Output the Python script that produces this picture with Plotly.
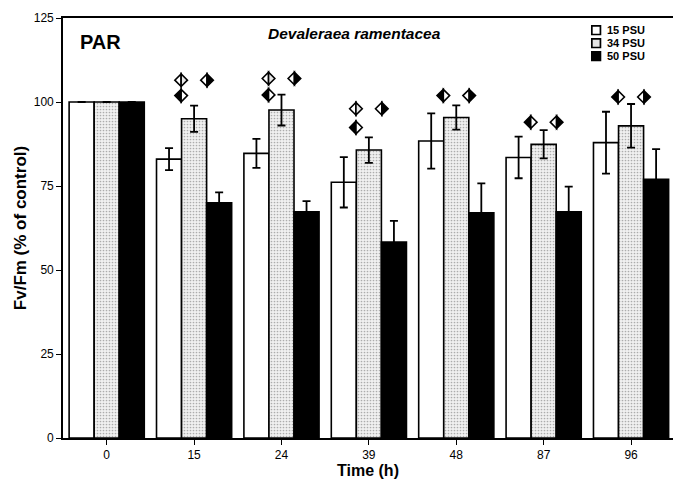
import plotly.graph_objects as go

# ---- data ----
time_labels = ["0", "15", "24", "39", "48", "87", "96"]
series_names = ["15 PSU", "34 PSU", "50 PSU"]
psu15 = [100, 83.0, 84.7, 76.1, 88.4, 83.5, 87.9]
psu15_err = [0, 3.3, 4.3, 7.5, 8.2, 6.2, 9.2]
psu34 = [100, 95.0, 97.6, 85.7, 95.4, 87.4, 92.9]
psu34_err = [0, 3.9, 4.6, 3.8, 3.6, 4.2, 6.5]
psu50 = [100, 70.0, 67.3, 58.3, 67.0, 67.3, 77.0]
psu50_err = [0, 3.1, 3.2, 6.3, 8.8, 7.5, 9.0]

# significance markers: group index, side (-1 left / +1 right), y value, kind
sig_group = [1, 1, 1, 2, 2, 2, 3, 3, 3, 4, 4, 5, 5, 6, 6]
sig_side = [-1, 1, -1, -1, 1, -1, -1, 1, -1, -1, 1, -1, 1, -1, 1]
sig_y = [106.5, 106.5, 101.9, 107.0, 107.0, 102.1, 98.0, 98.0, 92.4,
         101.9, 101.9, 94.0, 94.0, 101.5, 101.5]
sig_kind = ["A", "B", "C", "A", "B", "C", "A", "B", "C", "C", "B", "C", "B", "C", "B"]

x_idx = list(range(len(time_labels)))
FONT = "Arial, Liberation Sans, Helvetica, sans-serif"

fig = go.Figure()

err_style = dict(type="data", visible=True, color="black", thickness=1.8, width=4)
stipple = dict(shape=".", fgcolor="#686868", bgcolor="#f0f0f0", size=3, solidity=0.25)

fig.add_trace(go.Bar(
    x=x_idx, y=psu15, name=series_names[0],
    error_y=dict(array=psu15_err, **err_style),
    marker=dict(color="white", line=dict(color="black", width=1.6)),
))
fig.add_trace(go.Bar(
    x=x_idx, y=psu34, name=series_names[1],
    error_y=dict(array=psu34_err, **err_style),
    marker=dict(color="white", line=dict(color="black", width=1.6), pattern=stipple),
))
fig.add_trace(go.Bar(
    x=x_idx, y=psu50, name=series_names[2],
    error_y=dict(array=psu50_err, **err_style),
    marker=dict(color="black", line=dict(color="black", width=1.6)),
))

# half-filled diamond markers (pixel-sized shapes anchored at data coordinates)
half = 6.3
fills = {"A": ("white", "#e6e6e6"), "B": ("white", "black"), "C": ("black", "white")}
shapes = []
for g, s, yv, k in zip(sig_group, sig_side, sig_y, sig_kind):
    xa = g + s * 0.148
    lf, rf = fills[k]
    for path, col in ((f"M0,{-half} L{-half},0 L0,{half} Z", lf),
                      (f"M0,{-half} L{half},0 L0,{half} Z", rf)):
        shapes.append(dict(type="path", xref="x", yref="y",
                           xsizemode="pixel", ysizemode="pixel",
                           xanchor=xa, yanchor=yv, path=path,
                           fillcolor=col, line=dict(color="black", width=1.6)))

# hand-drawn legend (compact rows like the original)
legend_fill = ["white", "#e4e4e4", "black"]
legend_y = [0.971, 0.940, 0.909]
annotations = []
for name, col, ly in zip(series_names, legend_fill, legend_y):
    shapes.append(dict(type="rect", xref="paper", yref="paper",
                       xsizemode="pixel", ysizemode="pixel",
                       xanchor=0.874, yanchor=ly, x0=-4.3, x1=4.3, y0=-4.3, y1=4.3,
                       fillcolor=col, line=dict(color="black", width=1.7)))
    annotations.append(dict(text=f"<b>{name}</b>", x=0.888, y=ly, xref="paper",
                            yref="paper", xanchor="left", yanchor="middle",
                            showarrow=False, font=dict(size=11, family=FONT)))

annotations += [
    dict(text="<b>PAR</b>", x=0.024, y=0.943, xref="paper", yref="paper",
         xanchor="left", yanchor="middle", showarrow=False,
         font=dict(size=20, family=FONT)),
    dict(text="<b><i>Devaleraea ramentacea</i></b>", x=0.478, y=0.963,
         xref="paper", yref="paper", xanchor="center", yanchor="middle",
         showarrow=False, font=dict(size=15.5, family=FONT)),
]

fig.update_layout(
    width=673, height=479,
    margin=dict(l=63, r=0, t=18, b=41),
    paper_bgcolor="white", plot_bgcolor="white",
    barmode="group", bargap=0.14, bargroupgap=0,
    font=dict(family=FONT, size=12, color="black"),
    showlegend=False,
    shapes=shapes,
    annotations=annotations,
)

fig.update_xaxes(
    range=[-0.5, 6.48], tickmode="array", tickvals=x_idx, ticktext=time_labels,
    showline=True, linecolor="black", linewidth=1.6, mirror=True,
    ticks="outside", ticklen=5, tickwidth=1.4, tickcolor="black",
    showgrid=False, zeroline=False, automargin=False,
    title=dict(text="<b>Time (h)</b>", font=dict(size=16, family=FONT), standoff=2),
    tickfont=dict(size=12, family=FONT),
)
fig.update_yaxes(
    range=[0, 125], tickvals=[0, 25, 50, 75, 100, 125],
    showline=True, linecolor="black", linewidth=1.6,
    ticks="outside", ticklen=5, tickwidth=1.4, tickcolor="black",
    showgrid=False, zeroline=False, automargin=False,
    title=dict(text="<b>Fv/Fm (% of control)</b>", font=dict(size=17, family=FONT), standoff=3),
    tickfont=dict(size=12, family=FONT),
)

fig.write_html("out.html")
